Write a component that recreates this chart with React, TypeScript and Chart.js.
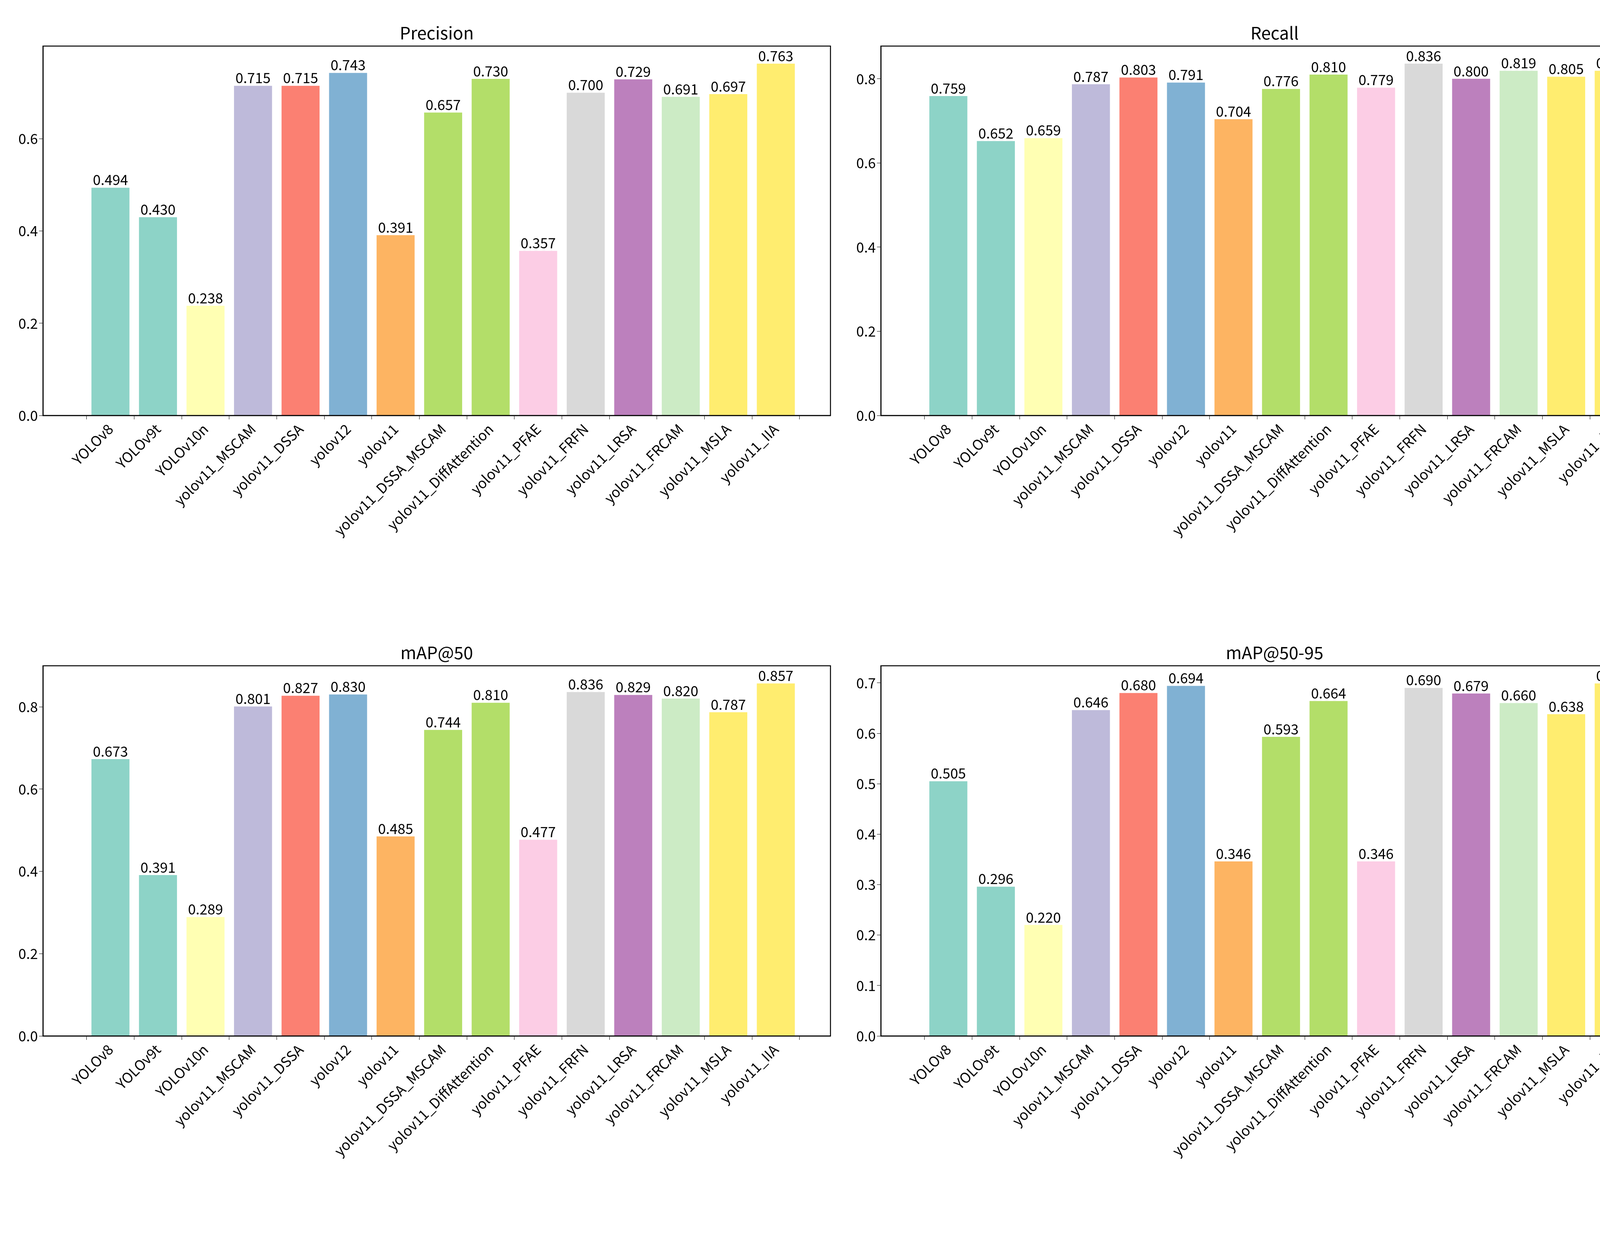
import React, { useEffect, useRef } from "react";
import { Chart, registerables } from "chart.js";
Chart.register(...registerables);

const labels = ["YOLOv8","YOLOv9t","YOLOv10n","yolov11_MSCAM","yolov11_DSSA","yolov12","yolov11","yolov11_DSSA_MSCAM","yolov11_DiffAttention","yolov11_PFAE","yolov11_FRFN","yolov11_LRSA","yolov11_FRCAM","yolov11_MSLA","yolov11_IIA"];
const colors = ["#8dd3c7","#8dd3c7","#ffffb3","#bebada","#fb8072","#80b1d3","#fdb462","#b3de69","#b3de69","#fccde5","#d9d9d9","#bc80bd","#ccebc5","#ffed6f","#ffed6f"];
const precision = [0.494,0.430,0.238,0.715,0.715,0.743,0.391,0.657,0.730,0.357,0.700,0.729,0.691,0.697,0.763];
const recall = [0.759,0.652,0.659,0.787,0.803,0.791,0.704,0.776,0.810,0.779,0.836,0.800,0.819,0.805,0.819];
const map50 = [0.673,0.391,0.289,0.801,0.827,0.830,0.485,0.744,0.810,0.477,0.836,0.829,0.820,0.787,0.857];
const map5095 = [0.505,0.296,0.220,0.646,0.680,0.694,0.346,0.593,0.664,0.346,0.690,0.679,0.660,0.638,0.699];

const FONT = "'Noto Sans CJK SC', 'DejaVu Sans', sans-serif";

type P = { title: string; values: number[]; step: number; left: number; top: number; yw: number; padTop: number; padRight: number; xh: number };

const W = 2156, H = 1586;

function Panel(p: P) {
  const ref = useRef<HTMLCanvasElement>(null);
  useEffect(() => {
    const ymax = Math.max(...p.values) * 1.05;
    const plugin = {
      id: "deco",
      afterDatasetsDraw(chart: any) {
        const ctx = chart.ctx;
        const ca = chart.chartArea;
        const meta = chart.getDatasetMeta(0);
        ctx.save();
        ctx.fillStyle = "#000";
        ctx.font = `36px ${FONT}`;
        ctx.textAlign = "center";
        ctx.textBaseline = "bottom";
        meta.data.forEach((el: any, i: number) => {
          ctx.fillText(p.values[i].toFixed(3), el.x, el.y - 2);
        });
        ctx.strokeStyle = "#000";
        ctx.lineWidth = 2.5;
        ctx.strokeRect(ca.left, ca.top, ca.right - ca.left, ca.bottom - ca.top);
        ctx.font = `44px ${FONT}`;
        ctx.textBaseline = "bottom";
        ctx.fillText(p.title, (ca.left + ca.right) / 2, ca.top - 12);
        ctx.restore();
      },
    };
    const chart = new Chart(ref.current!, {
      type: "bar",
      data: {
        datasets: [{
          data: p.values.map((v, i) => ({ x: i, y: v })),
          backgroundColor: colors,
          barPercentage: 1,
          categoryPercentage: 0.8,
        }],
      },
      options: {
        animation: false,
        responsive: false,
        devicePixelRatio: 1,
        layout: { padding: { top: p.padTop, right: p.padRight, left: 0, bottom: 0 } },
        plugins: { legend: { display: false }, tooltip: { enabled: false }, title: { display: false } },
        scales: {
          x: {
            type: "linear",
            offset: false,
            min: -1.42,
            max: 15.15,
            afterBuildTicks: (s: any) => { s.ticks = labels.map((_, i) => ({ value: i })); },
            afterFit: (s: any) => { s.height = p.xh; },
            ticks: {
              autoSkip: false,
              maxRotation: 45,
              minRotation: 45,
              color: "#000",
              font: { family: FONT, size: 36 },
              callback: (v: any) => labels[v as number] ?? "",
            },
            grid: { drawOnChartArea: false, drawTicks: true, tickLength: 10, color: "#000" },
            border: { color: "#000", width: 2.5 },
          },
          y: {
            min: 0,
            max: ymax,
            afterBuildTicks: (s: any) => {
              s.ticks = s.ticks.filter((t: any) => Math.abs(t.value / p.step - Math.round(t.value / p.step)) < 1e-6);
            },
            afterFit: (s: any) => { s.width = p.yw; },
            ticks: { stepSize: p.step, color: "#000", font: { family: FONT, size: 36 }, callback: (v: any) => Number(v).toFixed(1) },
            grid: { drawOnChartArea: false, drawTicks: true, tickLength: 10, color: "#000" },
            border: { color: "#000", width: 2.5 },
          },
        },
      },
      plugins: [plugin],
    } as any);
    return () => chart.destroy();
  }, []);
  return <canvas ref={ref} width={W} height={H} style={{ position: "absolute", left: p.left, top: p.top, width: W, height: H }} />;
}

export default function App() {
  return (
    <div style={{ position: "absolute", left: 0, top: 0, width: 4312, height: 3173, background: "#fff" }}>
      <Panel title="Precision" values={precision} step={0.2} left={0} top={0} yw={110} padTop={118} padRight={30} xh={522} />
      <Panel title="Recall" values={recall} step={0.2} left={2156} top={0} yw={99} padTop={118} padRight={41} xh={522} />
      <Panel title="mAP@50" values={map50} step={0.2} left={0} top={1586} yw={110} padTop={119} padRight={30} xh={519} />
      <Panel title="mAP@50-95" values={map5095} step={0.1} left={2156} top={1586} yw={99} padTop={119} padRight={41} xh={519} />
    </div>
  );
}
